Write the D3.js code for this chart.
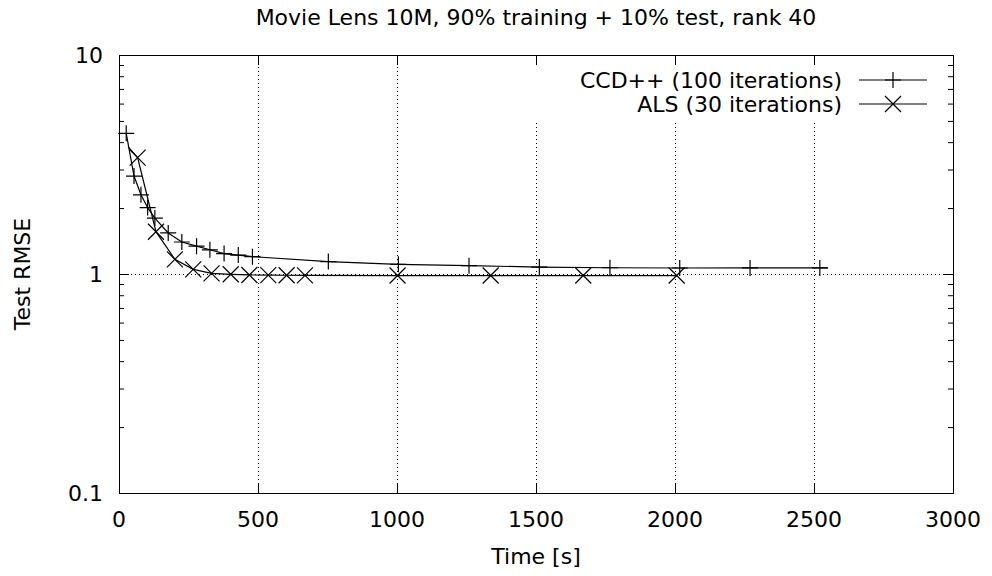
<!DOCTYPE html>
<html>
<head>
<meta charset="utf-8">
<script src="https://d3js.org/d3.v7.min.js"></script>
<style>
    body { margin: 0; background: #fff; }
    svg { display: block; font-family: "DejaVu Sans", sans-serif; }
</style>
</head>
<body>
<div id="root"></div>
<script>
// 데이터
const ccdTime = [26, 54, 79, 103, 129, 177, 226, 279, 327, 378, 429, 480, 753, 1005, 1259, 1512, 1766, 2017, 2270, 2521, 2550];
const ccdRmse = [4.39, 2.80, 2.30, 2.01, 1.80, 1.54, 1.40, 1.34, 1.29, 1.24, 1.22, 1.20, 1.14, 1.107, 1.091, 1.076, 1.068, 1.065, 1.066, 1.066, 1.066];

const alsTime = [33, 67, 133, 201, 267, 333, 402, 469, 537, 603, 669, 1002, 1337, 1670, 2006];
const alsRmse = [3.81, 3.40, 1.56, 1.167, 1.05, 1.007, 0.997, 0.99, 0.988, 0.987, 0.986, 0.984, 0.984, 0.984, 0.984];

const xTicks = [0, 500, 1000, 1500, 2000, 2500, 3000];
const yTicks = [0.1, 1, 10];
const seriesNames = ["CCD++ (100 iterations)", "ALS (30 iterations)"];

(function () {
    const W = 992, H = 576;
    const pl = 119, pr = 953, pt = 55, pb = 493; // plot 영역
    const FS = 22;

    const svg = d3.select("#root").append("svg")
        .attr("width", W)
        .attr("height", H);

    const x = d3.scaleLinear().domain([0, 3000]).range([pl, pr]);
    const y = d3.scaleLog().domain([0.1, 10]).range([pb, pt]);

    // 그리드 (점선)
    const grid = svg.append("g")
        .attr("stroke", "#000")
        .attr("stroke-width", 1)
        .attr("stroke-dasharray", "1,3");
    xTicks.filter(d => d > 0 && d < 3000).forEach(d => {
        grid.append("line")
            .attr("x1", Math.round(x(d)) + 0.5).attr("x2", Math.round(x(d)) + 0.5)
            .attr("y1", pt).attr("y2", pb);
    });
    yTicks.filter(d => d > 0.1 && d < 10).forEach(d => {
        grid.append("line")
            .attr("x1", pl).attr("x2", pr)
            .attr("y1", Math.round(y(d)) + 0.5).attr("y2", Math.round(y(d)) + 0.5);
    });

    // 범례 뒤 흰 박스 (그리드 가림)
    svg.append("rect")
        .attr("x", 528).attr("y", pt + 1)
        .attr("width", pr - 528).attr("height", 121 - pt)
        .attr("fill", "#fff");

    // 축 (양쪽 mirror 틱)
    const minor = [];
    [0.1, 1].forEach(b => { for (let k = 2; k <= 9; k++) minor.push(b * k); });

    svg.append("g").attr("transform", `translate(0,${pb})`)
        .call(d3.axisBottom(x).tickValues(xTicks).tickSize(-10).tickFormat(""));
    svg.append("g").attr("transform", `translate(0,${pt})`)
        .call(d3.axisTop(x).tickValues(xTicks).tickSize(-10).tickFormat(""));
    svg.append("g").attr("transform", `translate(${pl},0)`)
        .call(d3.axisLeft(y).tickValues(yTicks).tickSize(-10).tickFormat(""));
    svg.append("g").attr("transform", `translate(${pr},0)`)
        .call(d3.axisRight(y).tickValues(yTicks).tickSize(-10).tickFormat(""));
    svg.append("g").attr("transform", `translate(${pl},0)`)
        .call(d3.axisLeft(y).tickValues(minor).tickSize(-5).tickFormat(""));
    svg.append("g").attr("transform", `translate(${pr},0)`)
        .call(d3.axisRight(y).tickValues(minor).tickSize(-5).tickFormat(""));
    svg.selectAll(".domain").remove();
    svg.selectAll(".tick line").attr("stroke", "#000").attr("stroke-width", 1);

    // 테두리
    svg.append("rect")
        .attr("x", pl + 0.5).attr("y", pt + 0.5)
        .attr("width", pr - pl).attr("height", pb - pt)
        .attr("fill", "none").attr("stroke", "#000").attr("stroke-width", 1);

    // 틱 라벨
    svg.append("g").selectAll("text").data(xTicks).join("text")
        .attr("x", d => x(d)).attr("y", 527)
        .attr("text-anchor", "middle").attr("font-size", FS)
        .text(d => d);
    svg.append("g").selectAll("text").data(yTicks).join("text")
        .attr("x", 103).attr("y", d => y(d) + 8)
        .attr("text-anchor", "end").attr("font-size", FS)
        .text(d => d);

    // 제목, 축 제목
    svg.append("text")
        .attr("x", (pl + pr) / 2).attr("y", 25)
        .attr("text-anchor", "middle").attr("font-size", FS)
        .text("Movie Lens 10M, 90% training + 10% test, rank 40");
    svg.append("text")
        .attr("x", (pl + pr) / 2).attr("y", 564)
        .attr("text-anchor", "middle").attr("font-size", FS)
        .text("Time [s]");
    svg.append("text")
        .attr("transform", `translate(30,${(pt + pb) / 2}) rotate(-90)`)
        .attr("text-anchor", "middle").attr("font-size", FS)
        .text("Test RMSE");

    // 마커
    const R = 8;
    function plus(g, cx, cy) {
        g.append("path").attr("d", `M${cx - R},${cy}H${cx + R}M${cx},${cy - R}V${cy + R}`);
    }
    function cross(g, cx, cy) {
        g.append("path").attr("d", `M${cx - R},${cy - R}L${cx + R},${cy + R}M${cx - R},${cy + R}L${cx + R},${cy - R}`);
    }

    const line = d3.line().x(d => x(d[0])).y(d => y(d[1]));

    const ccd = d3.zip(ccdTime, ccdRmse);
    const als = d3.zip(alsTime, alsRmse);

    const gCcd = svg.append("g").attr("stroke", "#000").attr("fill", "none").attr("stroke-width", 1.2);
    gCcd.append("path").attr("d", line(ccd));
    // 마지막 점은 선 끝점 (마커 없음)
    ccd.slice(0, -1).forEach(d => plus(gCcd, x(d[0]), y(d[1])));

    const gAls = svg.append("g").attr("stroke", "#000").attr("fill", "none").attr("stroke-width", 1.2);
    gAls.append("path").attr("d", line(als));
    // 첫 점은 선 시작점 (마커 없음)
    als.slice(1).forEach(d => cross(gAls, x(d[0]), y(d[1])));

    // 범례
    const legY = [80, 104];
    const lg = svg.append("g");
    seriesNames.forEach((name, i) => {
        lg.append("text")
            .attr("x", 842).attr("y", legY[i] + 8)
            .attr("text-anchor", "end").attr("font-size", FS)
            .text(name);
        const g = lg.append("g").attr("stroke", "#000").attr("fill", "none").attr("stroke-width", 1.2);
        g.append("line").attr("x1", 859).attr("x2", 927).attr("y1", legY[i]).attr("y2", legY[i]);
        if (i === 0) plus(g, 893, legY[i]); else cross(g, 893, legY[i]);
    });
})();
</script>
</body>
</html>
